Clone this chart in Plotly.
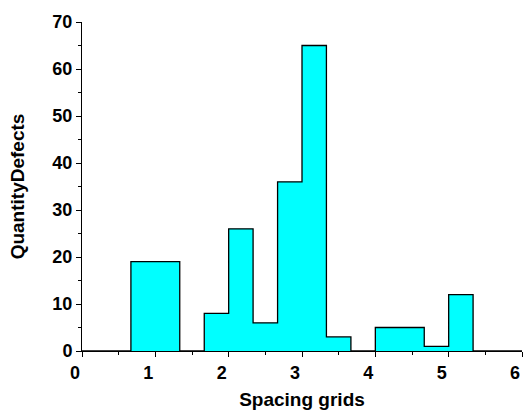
import plotly.graph_objects as go

# Histogram bins (left edges) and counts
bin_edges = [0.0, 0.333, 0.667, 1.0, 1.333, 1.667, 2.0, 2.333, 2.667, 3.0,
             3.333, 3.667, 4.0, 4.333, 4.667, 5.0, 5.333, 5.667, 6.0]
counts = [0, 0, 19, 19, 0, 8, 26, 6, 36, 65, 3, 0, 5, 5, 1, 12, 0, 0]

x_ticks = [0, 1, 2, 3, 4, 5, 6]
y_ticks = [0, 10, 20, 30, 40, 50, 60, 70]

step_y = counts + [counts[-1]]

fig = go.Figure()
fig.add_trace(go.Scatter(
    x=bin_edges, y=step_y,
    mode="lines",
    line=dict(shape="hv", color="black", width=1.3),
    fill="tozeroy", fillcolor="#00FFFF",
    showlegend=False, hoverinfo="skip", cliponaxis=False,
))

font_family = "Liberation Sans, Arial, sans-serif"
tick_font = dict(size=18, family=font_family, weight="bold", color="black")
title_font = dict(size=19, family=font_family, weight="bold", color="black")
fig.update_layout(
    width=523, height=415,
    margin=dict(l=82, r=1, t=22, b=64),
    plot_bgcolor="white", paper_bgcolor="white",
    font=dict(family=font_family, color="black"),
    xaxis=dict(
        range=[0, 6], tickvals=x_ticks, ticks="outside", ticklen=5,
        tickwidth=1, tickcolor="black", automargin=False,
        ticklabeloverflow="allow", ticklabelshift=-7,
        showline=True, linecolor="black", linewidth=1,
        showgrid=False, zeroline=False,
        tickfont=tick_font,
        minor=dict(dtick=0.5, tick0=0, ticks="outside", ticklen=3, tickcolor="black", showgrid=False),
        title=dict(text="Spacing grids", font=title_font, standoff=11),
    ),
    yaxis=dict(
        range=[0, 70], tickvals=y_ticks, ticks="outside", ticklen=5,
        tickwidth=1, tickcolor="black", automargin=False,
        ticklabeloverflow="allow",
        showline=True, linecolor="black", linewidth=1,
        showgrid=False, zeroline=False,
        tickfont=tick_font,
        minor=dict(dtick=5, tick0=0, ticks="outside", ticklen=3, tickcolor="black", showgrid=False),
        title=dict(text="QuantityDefects", font=title_font, standoff=22),
    ),
)

# remove the default page margin so the 523x415 figure fills the window exactly
fig.write_html(
    "out.html",
    config={"displayModeBar": False},
    post_script="document.body.style.margin='0';document.body.style.overflow='hidden';",
)
